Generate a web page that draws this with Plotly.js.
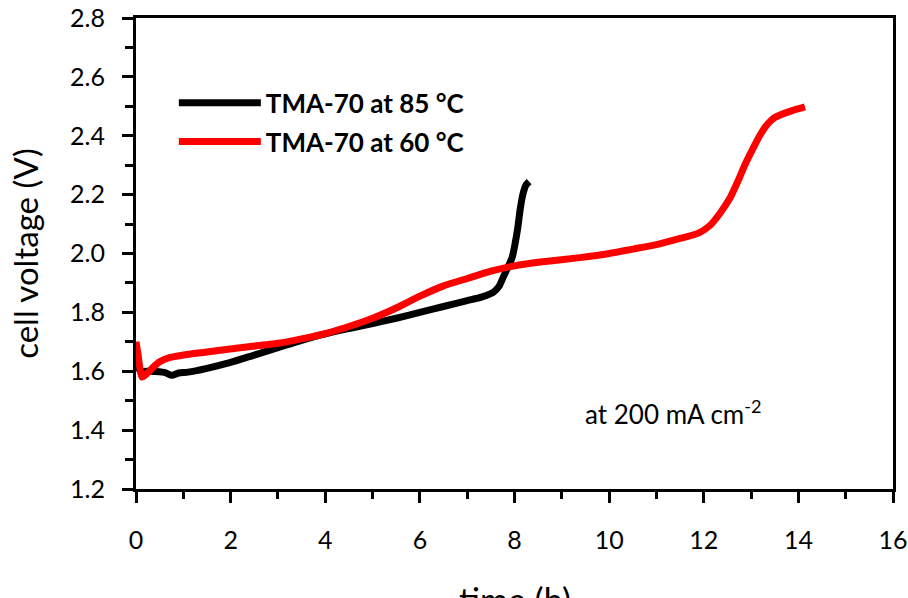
<!DOCTYPE html>
<html>
<head>
<meta charset="utf-8">
<script src="https://cdn.plot.ly/plotly-3.0.1.min.js"></script>
<style>html,body{margin:0;padding:0;background:#fff;}#chart{width:908px;height:598px;}</style>
</head>
<body>
<div id="chart"></div>
<script>
// Time (h) and cell voltage (V), TMA-70 at 85 °C
const t85 = [0, 0.05, 0.12, 0.3, 0.6, 0.76, 0.9, 1.1, 1.5, 2.0, 2.5, 3.0, 3.5, 4.0, 4.5, 5.0, 5.5, 6.0, 6.5, 7.0, 7.3, 7.55, 7.68, 7.76, 7.85, 7.95, 8.02, 8.07, 8.12, 8.18, 8.24, 8.31];
const v85 = [1.63, 1.61, 1.60, 1.60, 1.596, 1.586, 1.594, 1.597, 1.61, 1.63, 1.655, 1.68, 1.705, 1.727, 1.745, 1.762, 1.78, 1.80, 1.82, 1.84, 1.852, 1.868, 1.89, 1.919, 1.95, 1.986, 2.04, 2.088, 2.15, 2.203, 2.232, 2.244];
// TMA-70 at 60 °C
const t60 = [0, 0.04, 0.13, 0.25, 0.36, 0.5, 0.72, 1.0, 1.42, 2.2, 3.0, 3.5, 4.0, 4.5, 5.0, 5.5, 6.0, 6.5, 7.0, 7.5, 8.0, 8.5, 9.38, 10.0, 10.5, 11.0, 11.5, 11.9, 12.13, 12.34, 12.56, 12.72, 12.88, 13.05, 13.2, 13.35, 13.5, 13.7, 13.9, 14.14];
const v60 = [1.70, 1.66, 1.58, 1.595, 1.613, 1.632, 1.647, 1.655, 1.664, 1.68, 1.695, 1.71, 1.728, 1.752, 1.78, 1.815, 1.855, 1.89, 1.915, 1.94, 1.958, 1.97, 1.986, 2.0, 2.015, 2.03, 2.051, 2.07, 2.095, 2.136, 2.19, 2.245, 2.305, 2.36, 2.405, 2.44, 2.462, 2.476, 2.487, 2.498];
const seriesNames = ["TMA-70 at 85 °C", "TMA-70 at 60 °C"];
const xTicks = [0, 2, 4, 6, 8, 10, 12, 14, 16];
const xTickText = ["0", "2", "4", "6", "8", "10", "12", "14", "16"];
const yTicks = [1.2, 1.4, 1.6, 1.8, 2.0, 2.2, 2.4, 2.6, 2.8];
const yTickText = ["1.2", "1.4", "1.6", "1.8", "2.0", "2.2", "2.4", "2.6", "2.8"];
const xTitle = "time (h)";

const FONT = "Lato, 'Open Sans', sans-serif";

const traces = [
  {x: t85, y: v85, name: seriesNames[0], mode: "lines", legendgroup: "a",
   line: {color: "#000000", width: 7, shape: "spline", smoothing: 0.6}},
  {x: t60, y: v60, name: seriesNames[1], mode: "lines", legendgroup: "b",
   line: {color: "#ff0000", width: 7, shape: "spline", smoothing: 0.6}}
];

const layout = {
  width: 908, height: 598,
  margin: {l: 136, r: 15, t: 18, b: 109},
  paper_bgcolor: "#ffffff", plot_bgcolor: "#ffffff",
  font: {family: FONT, color: "#000000", size: 24},
  showlegend: true,
  legend: {x: 0.05, y: 0.87, xanchor: "left", yanchor: "top",
           bgcolor: "rgba(0,0,0,0)", font: {family: FONT, size: 26, color: "#000", weight: "bold"},
           tracegroupgap: 2, itemwidth: 82},
  xaxis: {range: [0, 16], tickvals: xTicks, ticktext: xTickText, showgrid: false, zeroline: false,
          showline: true, linecolor: "#000", linewidth: 3, mirror: true,
          ticks: "outside", ticklen: 11, tickwidth: 3, tickcolor: "#000",
          ticklabelstandoff: 16,
          minor: {dtick: 1, ticks: "outside", ticklen: 7, tickwidth: 3, tickcolor: "#000", showgrid: false},
          tickfont: {family: FONT, size: 25}},
  yaxis: {range: [1.2, 2.8], tickvals: yTicks, ticktext: yTickText, showgrid: false, zeroline: false,
          showline: true, linecolor: "#000", linewidth: 3, mirror: true,
          ticks: "outside", ticklen: 11, tickwidth: 3, tickcolor: "#000",
          ticklabelstandoff: 12,
          minor: {dtick: 0.1, ticks: "outside", ticklen: 8, tickwidth: 3, tickcolor: "#000", showgrid: false},
          tickfont: {family: FONT, size: 25},
          title: {text: "cell voltage (V)", font: {family: FONT, size: 33}, standoff: 22}},
  annotations: [
    {x: 11.35, y: 1.461, xref: "x", yref: "y", text: "at 200 mA cm<sup>-2</sup>", showarrow: false,
     font: {family: FONT, size: 26, color: "#000"}},
    {x: 0.5, y: -0.235, xref: "paper", yref: "paper", text: xTitle, showarrow: false,
     xanchor: "center", yanchor: "middle", font: {family: FONT, size: 34, color: "#000"}}
  ]
};

Plotly.newPlot("chart", traces, layout, {displayModeBar: false, staticPlot: true});
</script>
</body>
</html>
